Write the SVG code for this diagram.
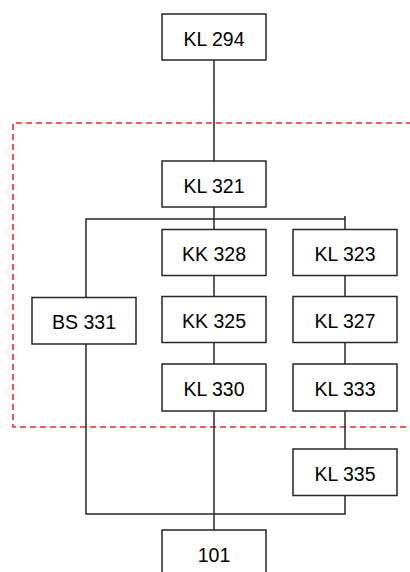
<svg xmlns="http://www.w3.org/2000/svg" width="410" height="572" viewBox="0 0 410 572">
<style>
.box{fill:#fff;stroke:#262626;stroke-width:1.5}
.lbl{font-family:"Liberation Sans",Arial,sans-serif;font-size:19.5px;fill:#000;text-anchor:middle}
.con{fill:none;stroke:#262626;stroke-width:1.5}
.region{fill:none;stroke:#ee2a2a;stroke-width:1.6;stroke-dasharray:6,4}
</style>
<rect width="410" height="572" fill="#fff"/>
<path class="region" d="M412 123 H13 V427 H412"/>
<g id="connectors">
<path class="con" d="M214 60 V161"/>
<path class="con" d="M214 207 V229"/>
<path class="con" d="M86 297 V219 H345 M345 216 V229"/>
<path class="con" d="M214 276 V296"/>
<path class="con" d="M214 343 V364"/>
<path class="con" d="M345 276 V296"/>
<path class="con" d="M345 343 V364"/>
<path class="con" d="M345 411 V449"/>
<path class="con" d="M86 344 V514 H345 V495"/>
<path class="con" d="M214 411 V530"/>
</g>
<g id="KL294"><rect class="box" x="162" y="14" width="104" height="46"/><text class="lbl" x="214" y="45.5">KL 294</text></g>
<g id="KL321"><rect class="box" x="162" y="161" width="104" height="46"/><text class="lbl" x="214" y="192.5">KL 321</text></g>
<g id="KK328"><rect class="box" x="162" y="229.5" width="104" height="46"/><text class="lbl" x="214" y="261">KK 328</text></g>
<g id="KL323"><rect class="box" x="293" y="229.5" width="104" height="46"/><text class="lbl" x="345" y="261">KL 323</text></g>
<g id="BS331"><rect class="box" x="32" y="297.5" width="104" height="46.5"/><text class="lbl" x="84" y="329">BS 331</text></g>
<g id="KK325"><rect class="box" x="162" y="296.5" width="104" height="46"/><text class="lbl" x="214" y="328">KK 325</text></g>
<g id="KL327"><rect class="box" x="293" y="296.5" width="104" height="46"/><text class="lbl" x="345" y="328">KL 327</text></g>
<g id="KL330"><rect class="box" x="162" y="364" width="104" height="47"/><text class="lbl" x="214" y="395.5">KL 330</text></g>
<g id="KL333"><rect class="box" x="293" y="364" width="104" height="47"/><text class="lbl" x="345" y="395.5">KL 333</text></g>
<g id="KL335"><rect class="box" x="293" y="449" width="104" height="46.5"/><text class="lbl" x="345" y="480.5">KL 335</text></g>
<g id="N101"><rect class="box" x="162" y="530" width="104" height="46"/><text class="lbl" x="214" y="562">101</text></g>
</svg>
